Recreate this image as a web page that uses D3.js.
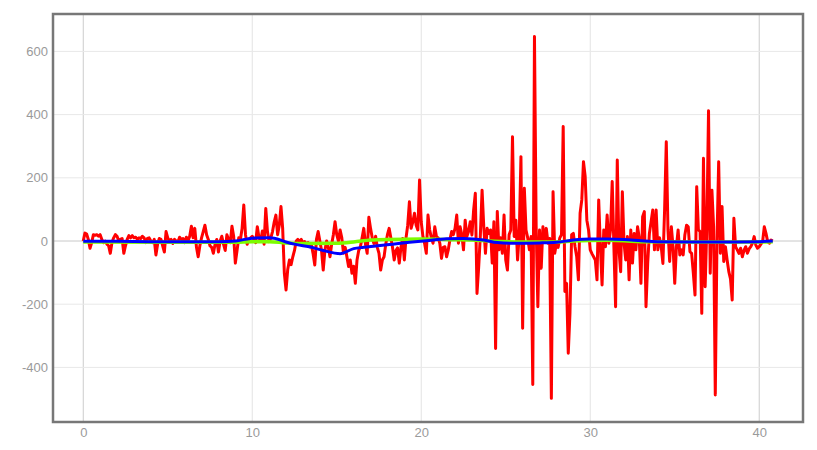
<!DOCTYPE html>
<html><head><meta charset="utf-8">
<script src="https://cdn.jsdelivr.net/npm/d3@7"></script>
<style>body{margin:0;background:#fff}svg{display:block}</style>
</head><body>
<script>
// ---- data ----
const xTicks = [0, 10, 20, 30, 40];
const yTicks = [-400, -200, 0, 200, 400, 600];
const redStep = 0.1; // sample spacing of the red series along x
const redValues = [
  0, 25, 22, 5, -23, -5, 20, 18, 20, 15,
  20, 5, -5, 0, -10, -15, -39, -5, 10, 20,
  15, 0, 5, 8, -39, -15, 5, 17, 10, 17,
  10, 12, 5, 10, 8, 15, 10, -5, 8, 10,
  0, -5, 5, -44, -10, 8, 5, -15, -35, 30,
  10, 0, 5, -8, 5, 0, -3, 12, 5, 8,
  -5, 12, 0, 15, 47, 10, 40, -20, -50, -15,
  10, 30, 50, 20, 5, -15, -20, -39, -10, 5,
  -35, 0, 15, -10, -30, 20, 5, -5, 47, 15,
  -70, -30, 10, 5, 40, 114, 20, -10, 5, 10,
  15, 5, -5, 45, 10, 0, 32, -10, 103, 30,
  -2, 10, 30, 60, 82, 20, 50, 109, 40, -102,
  -155, -90, -60, -75, -50, -30, 0, 5, -2, 5,
  -5, -2, -10, -5, -18, -12, -40, -76, 5, 30,
  0, -30, -92, -30, 0, -20, -50, -10, 20, 61,
  20, 0, 35, 10, -39, -20, -50, -81, -60, -102,
  -80, -134, -60, -30, -18, 10, 40, -10, -39, 75,
  40, 10, -8, 15, -20, -39, -92, -60, -50, -10,
  20, 40, 10, -20, -60, -30, -22, -70, -20, 8,
  -60, 10, 50, 124, 40, 60, 88, 50, 35, 193,
  60, 14, -8, -39, 82, 35, 10, -7, 45, 14,
  10, -7, -55, -20, -18, -50, -28, 5, 30, 20,
  40, 82, -7, 45, 20, -28, 66, 14, 30, 61,
  19, 98, 151, -166, -81, 20, 161, 45, -39, 40,
  24, 35, -70, 61, -340, 93, -28, 10, -39, 82,
  -60, -92, 20, 35, 330, 14, 66, -60, 20, 267,
  -276, 167, 35, 10, -28, 14, -454, 647, 45, -208,
  35, -86, 45, 3, 40, -7, 8, -498, 156, -39,
  -7, -20, 10, 20, 362, -160, -134, -355, -229, 20,
  24, -18, -50, -123, 88, 130, 251, 204, 66, 35,
  -28, -40, -50, -60, -123, 130, -18, -139, 35, -18,
  82, -7, 35, 188, -18, -208, 256, -28, -97, 156,
  -7, -60, 14, -123, 35, -70, 24, -28, 45, 10,
  -134, 77, 93, -208, -70, 24, 60, 98, -28, 98,
  -28, 10, -18, -71, 98, 314, 35, -65, 45, -18,
  -134, -18, 35, -44, -28, -44, 20, 50, 45, -34,
  -39, -102, -171, 172, 35, 30, -229, 262, -145, 45,
  412, -102, 161, 45, -487, 3, 251, -39, 109, -65,
  -18, -60, -97, -120, -187, 72, -18, -28, -39, -23,
  -50, -30, -18, -39, -25, -18, -7, 14, -13, -23,
  -18, -10, -2, 45, 24, -2, -7, 3, 0
];
const greenX = [0, 5, 9, 10, 11, 12, 13, 15, 16, 17, 18, 20, 22, 23, 24, 26, 28, 29, 31, 32, 33, 36, 40, 40.8];
const greenY = [-3, -4, -4, -2, -2, -6, -8, -7, -3, 3, 5, 6, 4, 3, 0, -3, -3, 0, 2, 1, -2, -3, -3, -2];
const blueX = [0, 2, 4, 6, 8, 9, 10, 11, 11.3, 12, 12.5, 13.5, 14.2, 15.2, 16, 16.6, 17.3, 18.3, 19.3, 20.3, 21.5, 22.5, 23.7, 24.5, 25.5, 27, 28, 29, 30, 31, 32, 33, 34, 36, 38, 40, 40.8];
const blueY = [-1, -1, -2, -2, -2, 0, 9, 10, 9, -3, -10, -20, -30, -40, -24, -20, -16, -10, -4, 1, 7, 8, 3, -5, -7, -6, -4, 3, 6, 6, 5, 1, -2, -3, -3, -2, 0];

// ---- layout ----
const W = 817, H = 450;
const L = 53, R = 803, T = 14, B = 422;
const svg = d3.select("body").append("svg").attr("width", W).attr("height", H);
const x = d3.scaleLinear().domain([-1.79, 42.59]).range([L, R]);
const y = d3.scaleLinear().domain([-572.8, 718.4]).range([B, T]);

const redData = redValues.map((v, i) => [i * redStep, v]);
const greenData = greenX.map((v, i) => [v, greenY[i]]);
const blueData = blueX.map((v, i) => [v, blueY[i]]);

// grid
const grid = svg.append("g");
grid.selectAll(".gx").data(xTicks).join("line")
  .attr("x1", d => x(d)).attr("x2", d => x(d)).attr("y1", T).attr("y2", B)
  .attr("stroke", d => (d === 0 || d === 40) ? "#cccccc" : "#e3e3e3").attr("stroke-width", 1);
grid.selectAll(".gy").data(yTicks).join("line")
  .attr("x1", L).attr("x2", R).attr("y1", d => y(d)).attr("y2", d => y(d))
  .attr("stroke", d => d === 0 ? "#c8c8c8" : "#e8e8e8").attr("stroke-width", 1);

// axes (labels only)
const fontFam = "'Liberation Sans', Arial, sans-serif";
const fmt = d => String(d);
const xAxis = svg.append("g").attr("transform", `translate(0,${B})`)
  .call(d3.axisBottom(x).tickValues(xTicks).tickSize(0).tickPadding(6).tickFormat(fmt));
const yAxis = svg.append("g").attr("transform", `translate(${L},0)`)
  .call(d3.axisLeft(y).tickValues(yTicks).tickSize(0).tickPadding(5).tickFormat(fmt));
[xAxis, yAxis].forEach(a => {
  a.select(".domain").remove();
  a.selectAll("text").attr("fill", "#9a9a9a").style("font-family", fontFam).style("font-size", "13px");
});

// clip
svg.append("clipPath").attr("id", "clip").append("rect").attr("x", L).attr("y", T).attr("width", R - L).attr("height", B - T);
const plot = svg.append("g").attr("clip-path", "url(#clip)");
const line = d3.line().x(d => x(d[0])).y(d => y(d[1]));
const smooth = d3.line().x(d => x(d[0])).y(d => y(d[1])).curve(d3.curveMonotoneX);

plot.append("path").datum(redData).attr("d", line)
  .attr("fill", "none").attr("stroke", "#ff0000").attr("stroke-width", 3).attr("stroke-linejoin", "round");
plot.append("path").datum(greenData).attr("d", smooth)
  .attr("fill", "none").attr("stroke", "#7cfc00").attr("stroke-width", 3.5);
plot.append("path").datum(blueData).attr("d", smooth)
  .attr("fill", "none").attr("stroke", "#0000ff").attr("stroke-width", 3);

// frame
svg.append("rect").attr("x", L).attr("y", T).attr("width", R - L).attr("height", B - T)
  .attr("fill", "none").attr("stroke", "#777").attr("stroke-width", 2.5);
</script>
</body></html>
